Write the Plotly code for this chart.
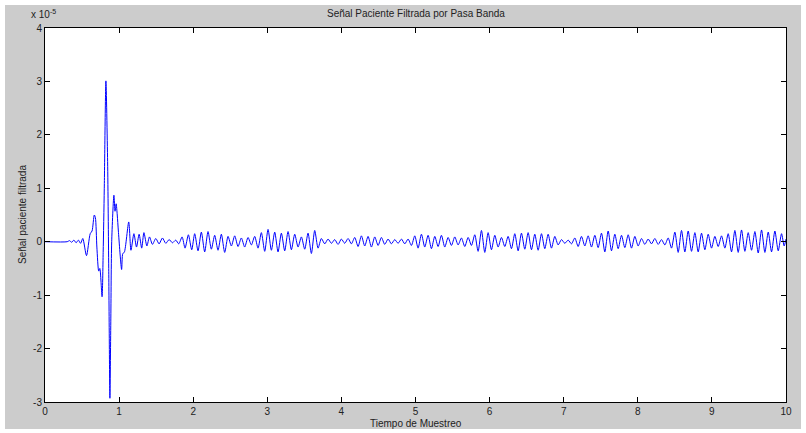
import plotly.graph_objects as go

# --- data (values in units of 1e-5) ---
burst_t = [0.0, 0.30, 0.33, 0.36, 0.39, 0.42, 0.45, 0.48, 0.51, 0.56, 0.61, 0.635, 0.665, 0.68,
           0.70, 0.725, 0.74, 0.77, 0.785, 0.80, 0.822, 0.845, 0.86, 0.876, 0.888, 0.90, 0.93,
           0.945, 0.96, 0.975, 0.99, 1.034, 1.05, 1.07, 1.13, 1.16, 1.20]
burst_v = [0.0, 0.0, 0.02, -0.01, 0.03, -0.02, 0.03, -0.03, 0.06, -0.26, 0.15, 0.2, 0.5, 0.45,
           -0.1, -0.55, -0.5, -1.03, -0.2, 1.0, 3.01, 1.5, -0.5, -2.93, -1.5, 0.0, 0.87,
           0.57, 0.71, 0.5, 0.2, -0.52, -0.22, -0.2, 0.37, -0.16, 0.15]

osc_t = [1.235, 1.27, 1.305, 1.335, 1.375, 1.41, 1.45, 1.495, 1.54, 1.585,
         1.63, 1.675, 1.72, 1.765, 1.805, 1.85, 1.89, 1.935, 1.98, 2.02,
         2.065, 2.11, 2.155, 2.20, 2.245, 2.29, 2.335, 2.38, 2.425, 2.47,
         2.515, 2.56, 2.605, 2.65, 2.695, 2.74, 2.785, 2.83, 2.875, 2.92,
         2.965, 3.01, 3.055, 3.10, 3.145, 3.19, 3.235, 3.28, 3.325, 3.37,
         3.415, 3.46, 3.505, 3.55, 3.595, 3.64, 3.685, 3.73, 3.775, 3.82,
         3.865, 3.91, 3.955, 4.00, 4.045, 4.09, 4.135, 4.18, 4.225, 4.27,
         4.315, 4.36, 4.405, 4.45, 4.495, 4.54, 4.585, 4.63, 4.675, 4.72,
         4.765, 4.81, 4.855, 4.90, 4.945, 4.99, 5.035, 5.08, 5.125, 5.17,
         5.215, 5.26, 5.305, 5.35, 5.395, 5.44, 5.485, 5.53, 5.575, 5.62,
         5.665, 5.71, 5.755, 5.80, 5.845, 5.89, 5.935, 5.98, 6.025, 6.07,
         6.115, 6.16, 6.205, 6.25, 6.295, 6.34, 6.385, 6.43, 6.475, 6.52,
         6.565, 6.61, 6.655, 6.70, 6.745, 6.79, 6.835, 6.88, 6.925, 6.97,
         7.015, 7.06, 7.105, 7.15, 7.195, 7.24, 7.285, 7.33, 7.375, 7.42,
         7.465, 7.51, 7.555, 7.60, 7.645, 7.69, 7.735, 7.78, 7.825, 7.87,
         7.915, 7.96, 8.005, 8.05, 8.095, 8.14, 8.185, 8.23, 8.275, 8.32,
         8.365, 8.41, 8.455, 8.50, 8.545, 8.59, 8.635, 8.68, 8.725, 8.77,
         8.815, 8.86, 8.905, 8.95, 8.995, 9.04, 9.085, 9.13, 9.175, 9.22,
         9.265, 9.31, 9.355, 9.40, 9.445, 9.49, 9.535, 9.58, 9.625, 9.67,
         9.715, 9.76, 9.805, 9.85, 9.895, 9.94, 9.975, 10.0]
osc_v = [-0.10, 0.14, -0.12, 0.17, -0.08, 0.09, -0.05, 0.06, -0.04, 0.07,
         -0.03, 0.04, -0.02, 0.03, -0.04, 0.09, -0.12, 0.13, -0.15, 0.15,
         -0.17, 0.18, -0.19, 0.19, -0.14, 0.12, -0.16, 0.14, -0.20, 0.10,
         -0.08, 0.11, -0.09, 0.07, -0.10, 0.08, -0.06, 0.10, -0.12, 0.17,
         -0.18, 0.23, -0.16, 0.18, -0.19, 0.16, -0.17, 0.19, -0.15, 0.14,
         -0.10, 0.09, -0.14, 0.16, -0.22, 0.21, -0.12, 0.06, -0.04, 0.05,
         -0.03, 0.04, -0.05, 0.05, -0.03, 0.06, -0.04, 0.08, -0.09, 0.11,
         -0.08, 0.10, -0.10, 0.09, -0.07, 0.08, -0.05, 0.05, -0.04, 0.04,
         -0.03, 0.05, -0.04, 0.05, -0.07, 0.11, -0.12, 0.14, -0.10, 0.12,
         -0.13, 0.10, -0.09, 0.12, -0.10, 0.08, -0.07, 0.09, -0.06, 0.07,
         -0.09, 0.08, -0.07, 0.13, -0.18, 0.21, -0.20, 0.17, -0.15, 0.12,
         -0.10, 0.08, -0.09, 0.10, -0.13, 0.15, -0.17, 0.16, -0.14, 0.17,
         -0.15, 0.14, -0.16, 0.15, -0.13, 0.14, -0.12, 0.10, -0.06, 0.04,
         -0.03, 0.03, -0.04, 0.07, -0.09, 0.10, -0.08, 0.11, -0.10, 0.12,
         -0.11, 0.16, -0.19, 0.20, -0.17, 0.14, -0.13, 0.12, -0.11, 0.13,
         -0.12, 0.10, -0.08, 0.06, -0.05, 0.05, -0.04, 0.06, -0.05, 0.04,
         -0.06, 0.07, -0.12, 0.18, -0.20, 0.21, -0.19, 0.20, -0.18, 0.17,
         -0.19, 0.16, -0.15, 0.14, -0.12, 0.10, -0.09, 0.11, -0.12, 0.15,
         -0.19, 0.21, -0.20, 0.22, -0.18, 0.17, -0.16, 0.19, -0.21, 0.22,
         -0.20, 0.18, -0.19, 0.20, -0.17, 0.15, -0.08, 0.05]

x_ticks = [0, 1, 2, 3, 4, 5, 6, 7, 8, 9, 10]
y_ticks = [-3, -2, -1, 0, 1, 2, 3, 4]
y_tick_text = ["-3", "-2", "-1", "0", "1", "2", "3", "4"]

t_all = burst_t + osc_t
v_all = burst_v + osc_v

font_family = "Liberation Sans, Arial, sans-serif"
txt_color = "#222222"
fs = 10

fig = go.Figure()
fig.add_trace(go.Scatter(
    x=t_all, y=v_all, mode="lines",
    line=dict(color="#0000ff", width=1, shape="spline", smoothing=0.7),
    showlegend=False, hoverinfo="skip",
))

W, H = 806, 433
L, R, T, B = 45, 786, 28, 402
pw, ph = R - L, B - T

def px(xp):
    return (xp - L) / pw

def py(yp):
    return (B - yp) / ph

fig.update_layout(
    width=W, height=H,
    margin=dict(l=L, r=W - R, t=T, b=H - B, pad=0),
    paper_bgcolor="white",
    plot_bgcolor="white",
    font=dict(family=font_family, size=fs, color=txt_color),
    shapes=[
        dict(type="rect", xref="paper", yref="paper", layer="below",
             x0=px(5), x1=px(801), y0=py(429), y1=py(5),
             fillcolor="#cccccc", line=dict(width=0)),
        dict(type="rect", xref="paper", yref="paper", layer="below",
             x0=0, x1=1, y0=0, y1=1,
             fillcolor="white", line=dict(width=0)),
    ],
    annotations=[
        dict(text="Señal Paciente Filtrada por Pasa Banda", xref="paper", yref="paper",
             x=0.5, y=py(13), xanchor="center", yanchor="middle", showarrow=False,
             font=dict(family=font_family, size=fs, color=txt_color)),
        dict(text="x 10<sup>-5</sup>", xref="paper", yref="paper",
             x=px(29), y=py(14), xanchor="left", yanchor="middle", showarrow=False,
             font=dict(family=font_family, size=fs, color=txt_color)),
        dict(text="Tiempo de Muestreo", xref="paper", yref="paper",
             x=0.5, y=py(423), xanchor="center", yanchor="middle", showarrow=False,
             font=dict(family=font_family, size=fs, color=txt_color)),
        dict(text="Señal paciente filtrada", xref="paper", yref="paper",
             x=px(22), y=0.5, xanchor="center", yanchor="middle", showarrow=False,
             textangle=-90, font=dict(family=font_family, size=fs, color=txt_color)),
    ],
    xaxis=dict(range=[0, 10], tickvals=x_ticks, ticktext=[str(v) for v in x_ticks],
               ticks="inside", ticklen=5, tickcolor="black", showline=True,
               linecolor="black", linewidth=1, mirror="ticks", showgrid=False,
               zeroline=False, ticklabelstandoff=0,
               tickfont=dict(family=font_family, size=fs, color=txt_color)),
    yaxis=dict(range=[-3, 4], tickvals=y_ticks, ticktext=y_tick_text,
               ticks="inside", ticklen=5, tickcolor="black", showline=True,
               linecolor="black", linewidth=1, mirror="ticks", showgrid=False,
               zeroline=False,
               tickfont=dict(family=font_family, size=fs, color=txt_color)),
)

fig.write_html("out.html")
